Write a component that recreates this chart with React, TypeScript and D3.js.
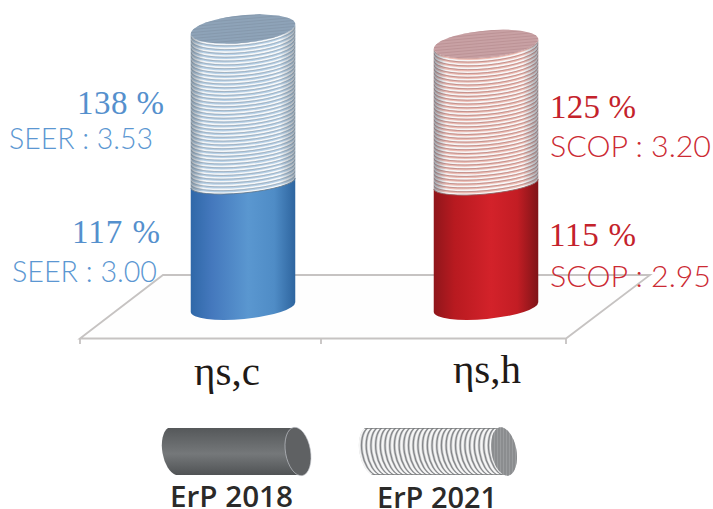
import React from "react";
import * as d3 from "d3";

const categories = ["ηs,c", "ηs,h"];
const erp2018Percent = [117, 115];
const erp2021Percent = [138, 125];
const erp2018Metric = ["SEER : 3.00", "SCOP : 2.95"];
const erp2021Metric = ["SEER : 3.53", "SCOP : 3.20"];
const legendLabels = ["ErP 2018", "ErP 2021"];

const W = 713, H = 509;
const x = d3.scalePoint<string>().domain(categories).range([243, 486]);
// The picture's heights are not proportional: the scale follows the drawn positions.
const y = d3.scaleLinear().domain([0, 115, 117, 125, 138]).range([307, 184, 183, 44, 29]);

const RX = 52.5, ROT = -5.5;
const ryAt = d3.scaleLinear().domain([307, 183, 29]).range([12, 10, 13.8]);
const rad = (ROT * Math.PI) / 180;
const dx = RX * Math.cos(rad), dy = RX * Math.sin(rad);
const frontArc = (cx: number, cy: number) =>
  `M${cx - dx},${cy - dy}A${RX},${ryAt(cy)} ${ROT} 0 0 ${cx + dx},${cy + dy}`;
const body = (cx: number, top: number, bottom: number) =>
  `M${cx - dx},${top - dy}A${RX},${ryAt(top)} ${ROT} 0 0 ${cx + dx},${top + dy}L${cx + dx},${bottom + dy}A${RX},${ryAt(bottom)} ${ROT} 0 1 ${cx - dx},${bottom - dy}Z`;
const cap = (cx: number, cy: number) =>
  `M${cx - dx},${cy - dy}A${RX},${ryAt(cy)} ${ROT} 1 0 ${cx + dx},${cy + dy}A${RX},${ryAt(cy)} ${ROT} 1 0 ${cx - dx},${cy - dy}Z`;

const palette = [
  { text: "#5590cd", metric: "#5b97d2", stops: ["#2f68a8", "#4478bd", "#5a97d0", "#4f8cc6", "#2e659f"], stripeBg: "#bcd8f0", stripe: "#a3afba", capA: "#8ea3b8", capB: "#8699ad", edge: "#5d7488" },
  { text: "#c4222b", metric: "#cc2a33", stops: ["#8f161b", "#b81a20", "#d3222a", "#c31d24", "#7f1418"], stripeBg: "#f8c3b9", stripe: "#bb8a87", capA: "#c8a1a4", capB: "#bc9396", edge: "#8a5f60" },
];

const LEG_R = [24.5, 12.5];
const LEG_ROT = -10;
function legendBody(left: number, right: number) {
  const t = 428, b = 475;
  const sh = 4;
  return `M${right - sh},${t}L${left + 6},${t}A${LEG_R[1]},${LEG_R[0]} ${LEG_ROT} 0 0 ${left + 14},${b}L${right + sh},${b}A${LEG_R[1]},${LEG_R[0]} ${LEG_ROT} 0 0 ${right - sh},${t}Z`;
}
const legendRib = (px: number) =>
  `M${px - 4},428A${LEG_R[1]},${LEG_R[0]} ${LEG_ROT} 0 0 ${px + 4},475`;
const legendCap = (cx: number) => ({ cx, cy: 451.5, rx: 12.5, ry: 24.5, transform: `rotate(-10 ${cx} 451.5)` });

export default function App() {
  return (
    <svg width={W} height={H} viewBox={`0 0 ${W} ${H}`} style={{ position: "absolute", left: 0, top: 0, background: "#fff" }}>
      <defs>
        {palette.map((p, i) => (
          <linearGradient key={i} id={`side${i}`} x1="0" x2="1" y1="0" y2="0">
            {p.stops.map((c, k) => <stop key={k} offset={[0, 0.2, 0.55, 0.8, 1][k]} stopColor={c} />)}
          </linearGradient>
        ))}
        <linearGradient id="shade" x1="0" x2="1" y1="0" y2="0">
          <stop offset="0" stopColor="#50606e" stopOpacity={0.55} />
          <stop offset="0.12" stopColor="#50606e" stopOpacity={0.06} />
          <stop offset="0.85" stopColor="#50606e" stopOpacity={0.04} />
          <stop offset="1" stopColor="#50606e" stopOpacity={0.5} />
        </linearGradient>
        <linearGradient id="legDark" x1="0" x2="0" y1="0" y2="1">
          <stop offset="0" stopColor="#55585a" />
          <stop offset="0.55" stopColor="#75787a" />
          <stop offset="1" stopColor="#505355" />
        </linearGradient>
        {categories.map((c, i) => (
          <clipPath key={c} id={`clip${i}`}>
            <path d={body(x(c)!, y(erp2021Percent[i]), y(erp2018Percent[i]))} />
          </clipPath>
        ))}
        <clipPath id="capClip0"><path d={cap(x(categories[0])!, y(erp2021Percent[0]))} /></clipPath>
        <clipPath id="capClip1"><path d={cap(x(categories[1])!, y(erp2021Percent[1]))} /></clipPath>
        <clipPath id="legClip"><path d={legendBody(359, 504)} /></clipPath>
        <clipPath id="legCapClip"><ellipse {...legendCap(504)} /></clipPath>
      </defs>

      {/* floor */}
      <g fill="none" stroke="#c6c3c2" strokeWidth={1.8}>
        <path d="M80,338.5L163,275H650L566,338.5Z" fill="#fefefe" />
        <path d="M80,338.5V344M321,338.5V344M566,338.5V344" />
      </g>

      {categories.map((c, i) => {
        const cx = x(c)!;
        const p = palette[i];
        const yLow = y(erp2018Percent[i]);
        const yHigh = y(erp2021Percent[i]);
        const base = y(0);
        const stripes = d3.range(yLow - 1, yHigh - 2, -3.9);
        return (
          <g key={c}>
            <path d={body(cx, yHigh, yLow)} fill={p.stripeBg} />
            <g clipPath={`url(#clip${i})`} fill="none">
              {stripes.map((s) => (
                <g key={s}>
                  <path d={frontArc(cx, s)} stroke="#fff" strokeWidth={1.6} />
                  <path d={frontArc(cx, s + 1.4)} stroke={p.stripe} strokeWidth={0.8} />
                </g>
              ))}
            </g>
            <path d={body(cx, yHigh, yLow)} fill="url(#shade)" />
            <path d={cap(cx, yHigh)} fill={p.capA} />
            <g clipPath={`url(#capClip${i})`} stroke={p.capB} strokeWidth={1}>
              {d3.range(yHigh - 16, yHigh + 16, 3).map((s) => (
                <path key={s} d={`M${cx - RX - 4},${s - dy}L${cx + RX + 4},${s + dy}`} />
              ))}
            </g>
            <path d={body(cx, yLow, base)} fill={`url(#side${i})`} />
            <path d={frontArc(cx, yLow)} fill="none" stroke={p.edge} strokeWidth={0.8} />
          </g>
        );
      })}

      {/* value labels */}
      <g fontFamily="'Liberation Serif', serif" fontSize={33}>
        <text x={77} y={114} fill={palette[0].text} textLength={87}>{`${erp2021Percent[0]} %`}</text>
        <text x={72} y={243} fill={palette[0].text} textLength={88}>{`${erp2018Percent[0]} %`}</text>
        <text x={550} y={118} fill={palette[1].text} textLength={86}>{`${erp2021Percent[1]} %`}</text>
        <text x={549} y={246} fill={palette[1].text} textLength={87}>{`${erp2018Percent[1]} %`}</text>
      </g>
      <g fontFamily="Lato, sans-serif" fontWeight={300} fontSize={29}>
        <text x={9} y={149} fill={palette[0].metric} textLength={144} lengthAdjust="spacingAndGlyphs">{erp2021Metric[0]}</text>
        <text x={12} y={282} fill={palette[0].metric} textLength={145} lengthAdjust="spacingAndGlyphs">{erp2018Metric[0]}</text>
        <text x={550} y={157} fill={palette[1].metric} textLength={161} lengthAdjust="spacingAndGlyphs">{erp2021Metric[1]}</text>
        <text x={550} y={287} fill={palette[1].metric} textLength={161} lengthAdjust="spacingAndGlyphs">{erp2018Metric[1]}</text>
      </g>

      {/* category labels */}
      <g fontFamily="'Liberation Serif', serif" fontSize={41} fill="#1f1a17" textAnchor="middle">
        <text x={x(categories[0])! - 16} y={385}>{categories[0]}</text>
        <text x={x(categories[1])! + 1} y={383}>{categories[1]}</text>
      </g>

      {/* legend */}
      <path d={legendBody(162, 298)} fill="url(#legDark)" />
      <ellipse {...legendCap(298)} fill="#5f6163" stroke="#c8ccd2" strokeWidth={0.6} />
      <path d={legendBody(359, 504)} fill="#d2d3d4" />
      <g clipPath="url(#legClip)" fill="none">
        {d3.range(360, 505, 4.7).map((px) => (
          <g key={px}>
            <path d={legendRib(px)} stroke="#f7f7f7" strokeWidth={1.8} />
            <path d={legendRib(px + 2.3)} stroke="#85878a" strokeWidth={1.3} />
          </g>
        ))}
        <path d="M359,428H510M359,475H510" stroke="#77797b" strokeWidth={1.4} />
      </g>
      <ellipse {...legendCap(504)} fill="#9a9c9e" />
      <g clipPath="url(#legCapClip)" stroke="#7c7e80" strokeWidth={1}>
        {d3.range(490, 520, 3).map((px) => <path key={px} d={`M${px},425V478`} />)}
      </g>
      <g fontFamily="'Open Sans', sans-serif" fontWeight={600} fontSize={29} fill="#2b2a29">
        <text x={170} y={507} textLength={123} lengthAdjust="spacingAndGlyphs">{legendLabels[0]}</text>
        <text x={377} y={508} textLength={120} lengthAdjust="spacingAndGlyphs">{legendLabels[1]}</text>
      </g>
    </svg>
  );
}
